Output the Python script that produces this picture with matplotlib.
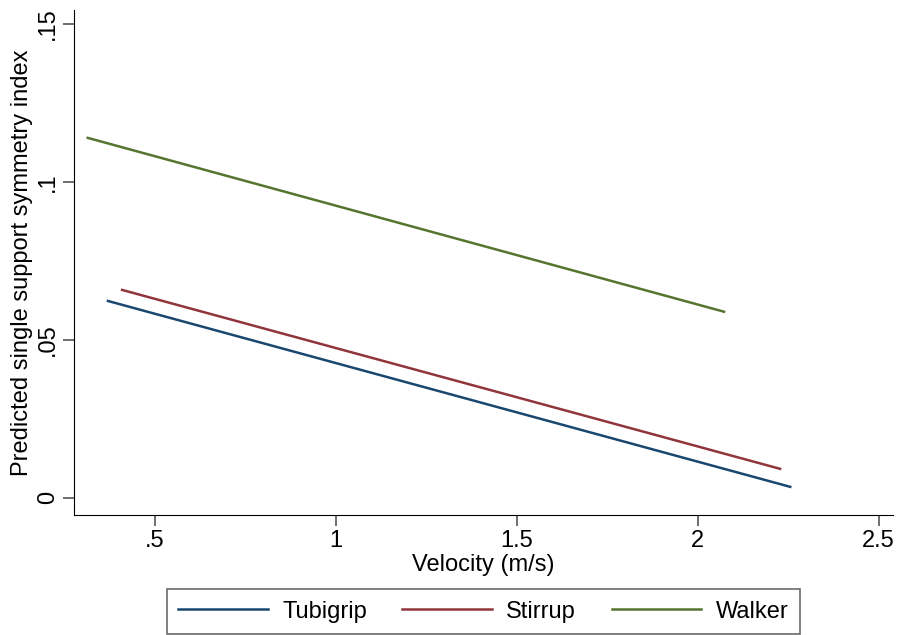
import matplotlib.pyplot as plt

plt.rcParams['font.family'] = ['Liberation Sans', 'DejaVu Sans']

# predicted symmetry index by velocity (line endpoints)
groups = ['Tubigrip', 'Stirrup', 'Walker']
colors = ['#1a476f', '#90353b', '#55752f']
velocity = {
    'Tubigrip': [0.37, 2.256],
    'Stirrup': [0.409, 2.228],
    'Walker': [0.314, 2.073],
}
predicted = {
    'Tubigrip': [0.0623, 0.0035],
    'Stirrup': [0.0658, 0.0092],
    'Walker': [0.1139, 0.0589],
}
xticks = [0.5, 1, 1.5, 2, 2.5]
xticklabels = ['.5', '1', '1.5', '2', '2.5']
yticks = [0, 0.05, 0.1, 0.15]
yticklabels = ['0', '.05', '.1', '.15']

fig = plt.figure(figsize=(9, 6.35), dpi=100)
ax = fig.add_axes([0.0822, 0.189, 0.91, 0.795])

for g, c in zip(groups, colors):
    ax.plot(velocity[g], predicted[g], color=c, lw=1.8, label=g)

ax.set_xlim(0.276, 2.54)
ax.set_ylim(-0.0054, 0.1543)
ax.set_xticks(xticks)
ax.set_xticklabels(xticklabels)
ax.set_yticks(yticks)
ax.set_yticklabels(yticklabels, rotation=90, va='center')
ax.tick_params(labelsize=17, length=8, color='#555555', width=1.2, pad=3)
ax.spines['top'].set_visible(False)
ax.spines['right'].set_visible(False)
ax.spines['left'].set_color('black')
ax.spines['bottom'].set_color('black')
ax.set_xlabel('Velocity (m/s)', fontsize=17, labelpad=1)
ax.set_ylabel('Predicted single support symmetry index', fontsize=17, labelpad=3)

leg = fig.legend(loc='center', bbox_to_anchor=(0.537, 0.037), ncol=3, fontsize=17,
                 frameon=True, fancybox=False, edgecolor='#444444',
                 handlelength=3.8, columnspacing=1.5, handletextpad=0.6,
                 borderpad=0.5, borderaxespad=0)
leg.get_frame().set_linewidth(1.2)

fig.savefig('out.png', dpi=100)
